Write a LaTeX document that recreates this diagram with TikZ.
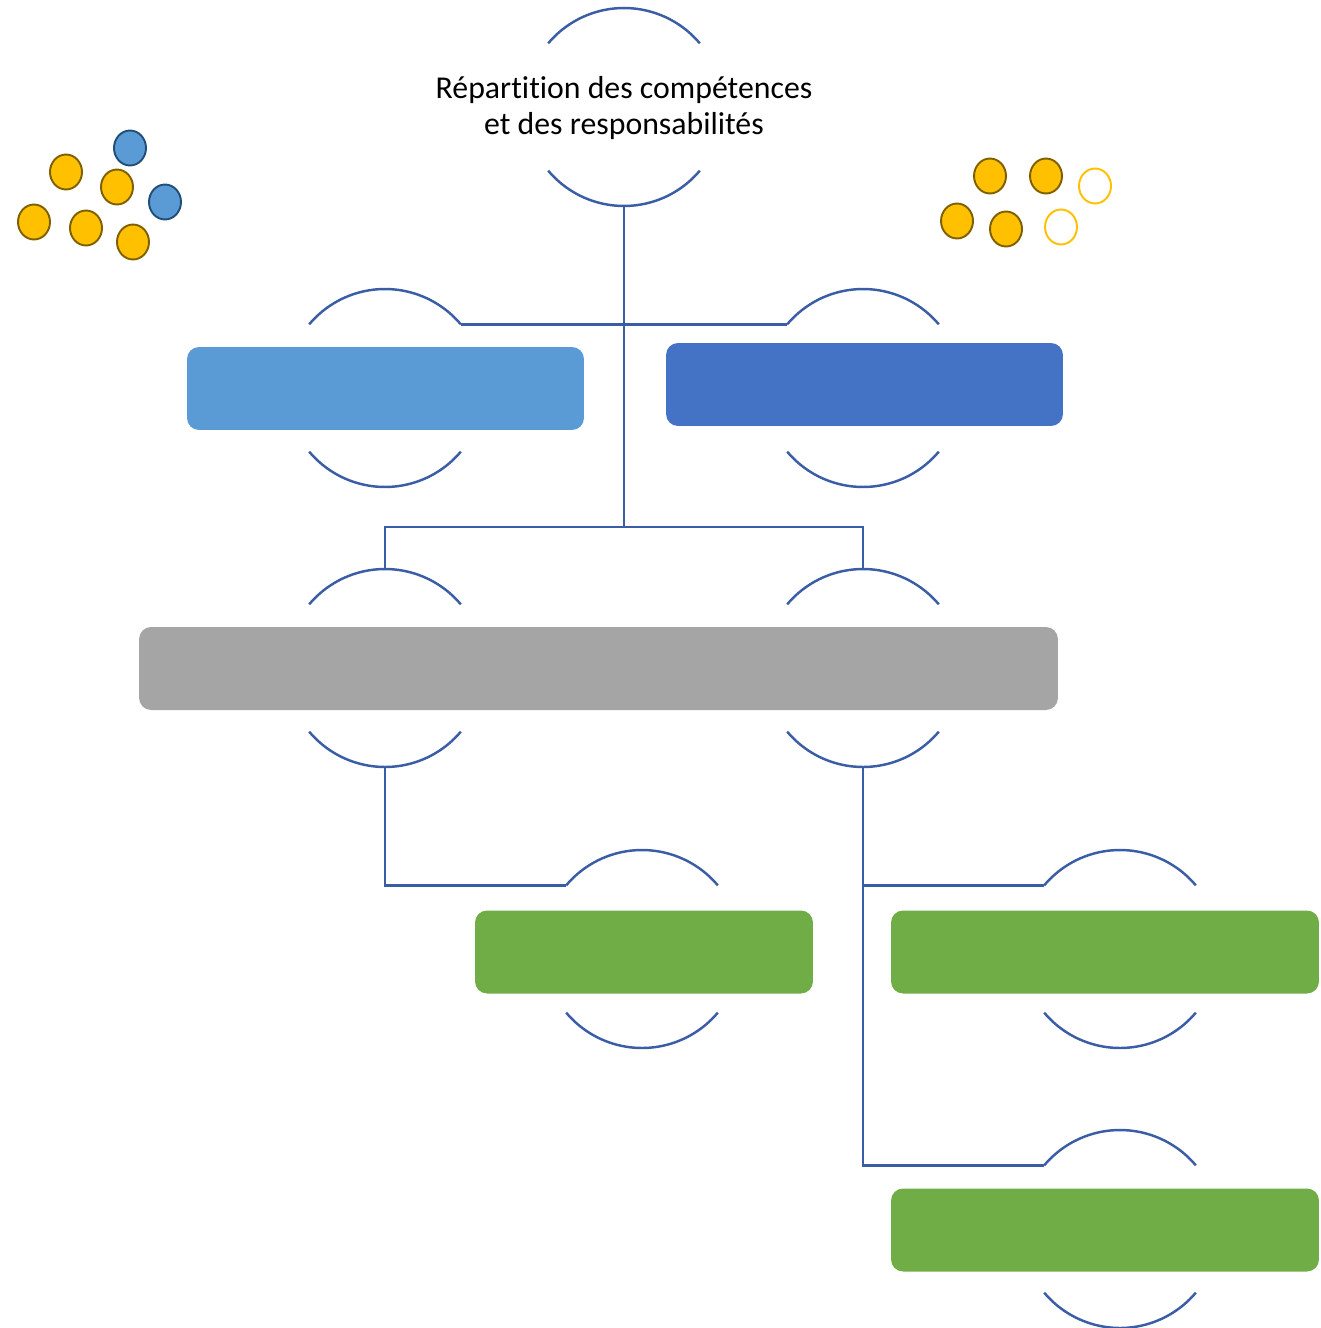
\documentclass[tikz,border=0pt]{standalone}
\usepackage{fontspec}
\setmainfont{Carlito}[Ligatures=NoCommon]
\usetikzlibrary{shapes.geometric}
\begin{document}
\begin{tikzpicture}[x=0.02cm, y=-0.02cm,
  linkcol/.style={draw=lk, line width=1.4pt},
  ring/.style={circle, minimum size=3.96cm, inner sep=0pt, outer sep=0pt},
  panel/.style={rectangle, rounded corners=0.24cm, inner sep=0pt, minimum height=1.66cm},
  dotY/.style={ellipse, fill=yl, draw=yb, line width=1.1pt, minimum width=0.64cm, minimum height=0.7cm, inner sep=0pt},
  dotB/.style={ellipse, fill=bl, draw=bb, line width=1.1pt, minimum width=0.64cm, minimum height=0.7cm, inner sep=0pt},
  dotO/.style={ellipse, draw=yl, line width=1.1pt, minimum width=0.64cm, minimum height=0.7cm, inner sep=0pt},
]
\definecolor{lk}{HTML}{3A5DA5}
\definecolor{lb}{HTML}{5B9BD5}
\definecolor{db}{HTML}{4472C4}
\definecolor{gr}{HTML}{A5A5A5}
\definecolor{gn}{HTML}{70AD47}
\definecolor{yl}{HTML}{FFC000}
\definecolor{yb}{HTML}{7F6000}
\definecolor{bl}{HTML}{5B9BD5}
\definecolor{bb}{HTML}{1F4E79}
\useasboundingbox (0,0) rectangle (1320,1328);

% ring placeholders (only the upper and lower arcs are drawn)
\node[ring] (top) at (624,107) {};
\node[ring] (l2a) at (385,388) {};
\node[ring] (l2b) at (863,388) {};
\node[ring] (l3a) at (385,668) {};
\node[ring] (l3b) at (863,668) {};
\node[ring] (l4a) at (642,949) {};
\node[ring] (l4b) at (1120,949) {};
\node[ring] (l4c) at (1120,1229) {};

\foreach \n in {top,l2a,l2b,l3a,l3b,l4a,l4b,l4c}{
  \draw[linkcol] (\n.140) arc[start angle=140, end angle=40, radius=1.98cm];
  \draw[linkcol] (\n.220) arc[start angle=220, end angle=320, radius=1.98cm];
}

% coloured panels
\node[panel, fill=lb, minimum width=7.94cm] (p2a) at (385.5,388.5) {};
\node[panel, fill=db, minimum width=7.94cm] (p2b) at (864.5,384.5) {};
\node[panel, fill=gr, minimum width=18.38cm] (p3) at (598.5,668.5) {};
\node[panel, fill=gn, minimum width=6.76cm] (p4a) at (644,952) {};
\node[panel, fill=gn, minimum width=8.56cm] (p4b) at (1105,952) {};
\node[panel, fill=gn, minimum width=8.56cm] (p4c) at (1105,1230) {};

% title
\node[align=center, font=\fontsize{18.1}{20.5}\selectfont] (ttl) at (624,108.5) {Répartition des compétences\\et des responsabilités};

% connectors
\coordinate (j1) at (624,527);
\draw[linkcol] (top.south) -- (j1);
\draw[linkcol] (l2a.40) -- (l2b.140);
\draw[linkcol] (l3a.north) |- (j1) -| (l3b.north);
\draw[linkcol] (l3a.south) |- (l4a.140);
\draw[linkcol] (l3b.south) |- (l4b.140);
\draw[linkcol] (l3b.south) |- (l4c.140);

% decorative dots
\node[dotB] (b1) at (130,148) {};
\node[dotY] (y1) at (66,172) {};
\node[dotY] (y2) at (117,187) {};
\node[dotB] (b2) at (165,202) {};
\node[dotY] (y3) at (34,222) {};
\node[dotY] (y4) at (86,228) {};
\node[dotY] (y5) at (133,242) {};

\node[dotY] (y6) at (990,176) {};
\node[dotY] (y7) at (1046,176) {};
\node[dotO] (o1) at (1095,186) {};
\node[dotY] (y8) at (957,221) {};
\node[dotY] (y9) at (1006,229) {};
\node[dotO] (o2) at (1061,227) {};
\end{tikzpicture}
\end{document}
